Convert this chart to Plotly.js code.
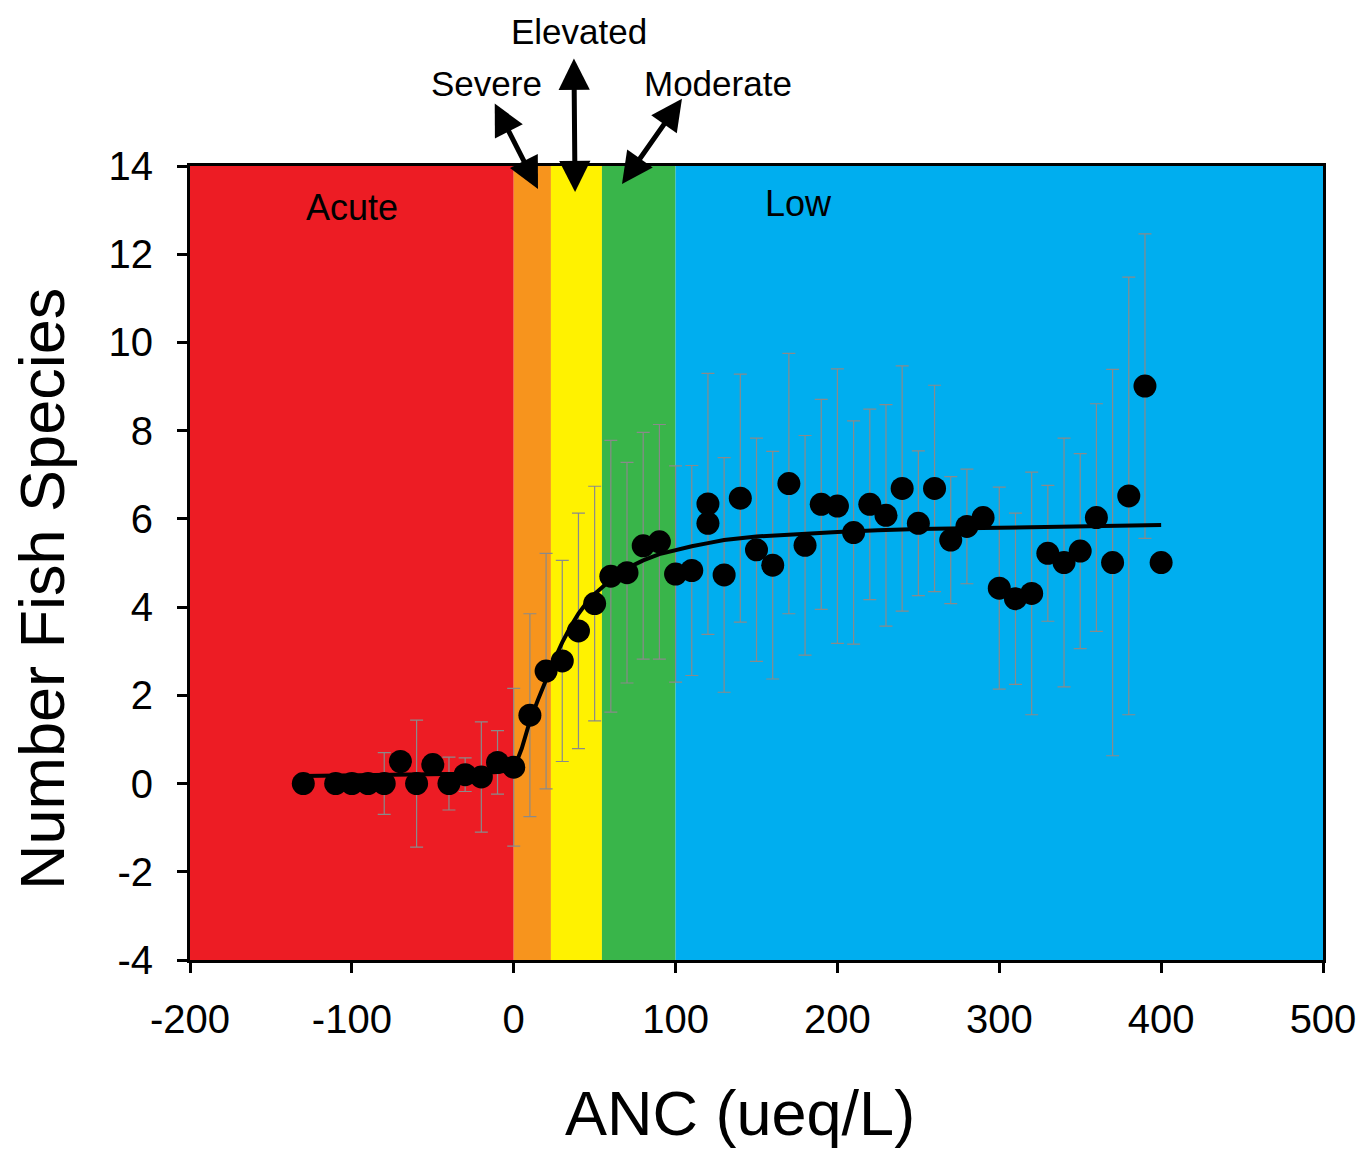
<!DOCTYPE html>
<html>
<head>
<meta charset="utf-8">
<script src="https://cdn.plot.ly/plotly-3.0.1.min.js"></script>
<style>html,body{margin:0;padding:0;background:#fff;}#chart{width:1363px;height:1153px;}</style>
</head>
<body>
<div id="chart"></div>
<script>
// ---- Data ----
const ancValues = [-130,-110,-100,-90,-80,-70,-60,-50,-40,-30,-20,-10,0,10,20,30,40,50,60,70,80,90,100,110,120,120,130,140,150,160,170,180,190,200,210,220,230,240,250,260,270,280,290,300,310,320,330,340,350,360,370,380,390,400];
const fishSpecies = [0,0,0,0,0,0.5,0,0.43,0,0.2,0.15,0.48,0.37,1.55,2.55,2.78,3.46,4.08,4.7,4.78,5.39,5.48,4.75,4.83,6.34,5.9,4.73,6.47,5.3,4.95,6.8,5.4,6.33,6.29,5.69,6.33,6.08,6.69,5.9,6.69,5.52,5.83,6.03,4.43,4.19,4.31,5.22,5.01,5.27,6.03,5.01,6.52,9.01,5.01];
const fishSpeciesSD = [0,0,0,0,0.7,0,1.44,0,0.6,0.38,1.25,0.72,1.79,2.3,2.67,2.28,2.67,2.66,3.08,2.5,2.57,2.66,2.45,2.38,2.96,0,2.66,2.81,2.53,2.58,2.95,2.49,2.38,3.11,2.53,2.16,2.51,2.78,1.64,2.34,1.44,1.3,0,2.29,1.94,2.75,1.54,2.82,2.21,2.58,4.38,4.96,3.45,0];

const fitX = [-130,-100,-60,-30,-10,0,5,10,15,20,25,30,35,40,45,50,55,60,70,80,90,100,110,120,130,150,175,200,225,250,300,350,400];
const fitY = [0.17,0.18,0.2,0.22,0.26,0.32,0.8,1.42,1.9,2.38,2.8,3.2,3.55,3.85,4.1,4.3,4.47,4.62,4.88,5.06,5.2,5.3,5.38,5.45,5.52,5.6,5.66,5.7,5.74,5.77,5.8,5.83,5.86];

const bandEdges = [-200,0,23,54.5,100,500];
const bandColors = ['#ED1C24','#F7941D','#FFF200','#39B54A','#00AEEF'];

const insideLabels = ['Acute','Low'];
const insideLabelX = [-100,176];
const insideLabelY = [13.05,13.16];

const arrowLabels = ['Severe','Elevated','Moderate'];
const arrowLabelPaperX = [0.2613,0.3433,0.466];
const arrowLabelPaperY = [1.1045,1.170,1.1045];
const arrowTailX = [-12.2,37.2,104.6];
const arrowTailY = [15.45,16.47,15.56];
const arrowHeadX = [15,37.9,66.9];
const arrowHeadY = [13.48,13.41,13.59];

const xTicks = [-200,-100,0,100,200,300,400,500];
const yTicks = [-4,-2,0,2,4,6,8,10,12,14];
const xTitle = 'ANC (ueq/L)';
const yTitle = 'Number Fish Species';

// ---- Build figure ----
const FONT = 'Liberation Sans, Arial, sans-serif';

const shapes = [];
for (let i = 0; i < bandColors.length; i++) {
  shapes.push({type:'rect', xref:'x', yref:'paper', x0:bandEdges[i], x1:bandEdges[i+1], y0:0, y1:1,
    fillcolor:bandColors[i], line:{width:0}, layer:'below'});
}

const annotations = [];
insideLabels.forEach((t,i)=>annotations.push({text:t, x:insideLabelX[i], y:insideLabelY[i], xref:'x', yref:'y',
  showarrow:false, font:{family:FONT, size:36, color:'#000'}}));
arrowLabels.forEach((t,i)=>{
  annotations.push({text:t, x:arrowLabelPaperX[i], y:arrowLabelPaperY[i], xref:'paper', yref:'paper', showarrow:false,
    xanchor:'center', yanchor:'middle', font:{family:FONT, size:35, color:'#000'}});
  annotations.push({text:'', x:arrowHeadX[i], y:arrowHeadY[i], ax:arrowTailX[i], ay:arrowTailY[i],
    xref:'x', yref:'y', axref:'x', ayref:'y', showarrow:true, arrowhead:2, startarrowhead:2,
    arrowside:'end+start', arrowsize:1.25, startarrowsize:1.25, arrowwidth:5, arrowcolor:'#000',
    standoff:0, startstandoff:0});
});
// axis titles
annotations.push({text:xTitle, x:0.4854, y:-0.1927, xref:'paper', yref:'paper', showarrow:false,
  xanchor:'center', yanchor:'middle', font:{family:FONT, size:63, color:'#000'}});
annotations.push({text:yTitle, x:-0.1306, y:0.4673, xref:'paper', yref:'paper', showarrow:false, textangle:-90,
  xanchor:'center', yanchor:'middle', font:{family:FONT, size:63, color:'#000'}});

const traces = [
  {x:ancValues, y:fishSpecies, type:'scatter', mode:'markers', name:'Fish species',
   marker:{size:23, color:'#000'},
   error_y:{type:'data', array:fishSpeciesSD, visible:true, color:'#8a8a8a', thickness:1.2, width:6.5},
   cliponaxis:false},
  {x:fitX, y:fitY, type:'scatter', mode:'lines', name:'Fit', line:{color:'#000', width:4}}
];

const layout = {
  width:1363, height:1153,
  margin:{l:190, r:40, t:166, b:193},
  paper_bgcolor:'#fff', plot_bgcolor:'#fff',
  showlegend:false,
  font:{family:FONT, color:'#000'},
  xaxis:{range:[-200,500], tickvals:xTicks, ticktext:xTicks.map(String), ticks:'outside', ticklen:10, tickwidth:3,
    tickcolor:'#000', showline:true, linewidth:3, linecolor:'#000', mirror:true, showgrid:false, zeroline:false,
    tickfont:{family:FONT, size:40, color:'#000'}, ticklabelstandoff:12},
  yaxis:{range:[-4,14], tickvals:yTicks, ticktext:yTicks.map(String), ticks:'outside', ticklen:10, tickwidth:3,
    tickcolor:'#000', showline:true, linewidth:3, linecolor:'#000', mirror:true, showgrid:false, zeroline:false,
    tickfont:{family:FONT, size:40, color:'#000'}, ticklabelstandoff:16},
  shapes:shapes,
  annotations:annotations
};

Plotly.newPlot('chart', traces, layout, {displayModeBar:false, staticPlot:true});
</script>
</body>
</html>
